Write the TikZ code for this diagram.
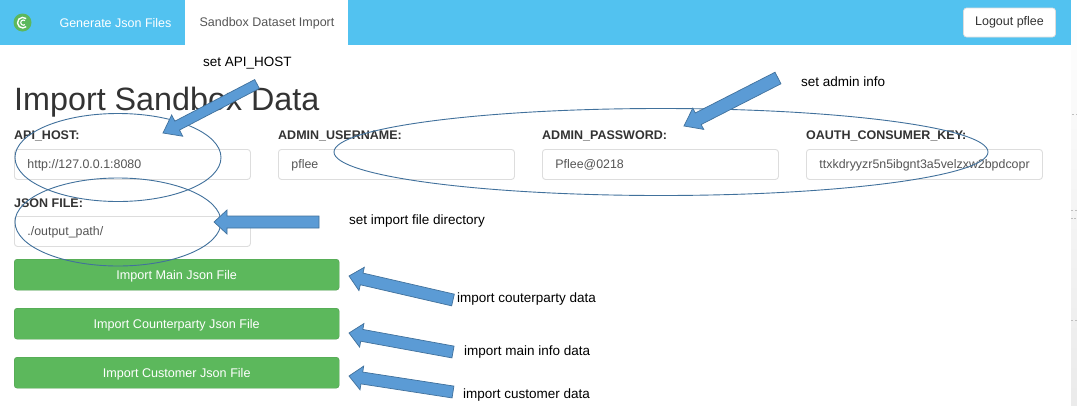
\documentclass[tikz,border=0pt]{standalone}
\usepackage{fontspec}
\setmainfont{Liberation Sans}
\usetikzlibrary{calc}
\definecolor{navblue}{HTML}{52C2F0}
\definecolor{btngreen}{HTML}{5CB85C}
\definecolor{arrowfill}{HTML}{5B9BD5}
\definecolor{arrowline}{HTML}{41719C}
\definecolor{inkdark}{HTML}{333333}
\definecolor{inkgrey}{HTML}{555555}
\definecolor{boxline}{HTML}{DDDDDD}
\tikzset{
  navtext/.style={anchor=center,inner sep=0pt,font=\fontsize{12.5}{14}\selectfont},
  fieldlabel/.style={anchor=west,inner sep=0pt,text=inkdark,font=\bfseries\fontsize{12.5}{14}\selectfont},
  fieldbox/.style={draw=boxline,line width=0.9pt,fill=white,rounded corners=3pt,anchor=north west,minimum height=30pt,inner xsep=13pt,inner ysep=0pt,text=inkgrey,align=left,text depth=0pt,font=\fontsize{12.4}{14}\selectfont},
  greenbtn/.style={draw=btngreen!85!black,line width=0.4pt,fill=btngreen,rounded corners=3pt,anchor=north west,minimum width=325pt,minimum height=31pt,inner sep=0pt,text=white,text height=9pt,text depth=0pt,font=\fontsize{12.6}{14}\selectfont},
  note/.style={anchor=west,inner sep=0pt,text=black,font=\fontsize{13.5}{15}\selectfont},
  ring/.style={draw=arrowline,line width=0.9pt},
  blockarrow/.style={draw=arrowline,line width=0.7pt,fill=arrowfill,line join=miter},
  tick/.style={draw=black!25,line width=0.7pt}
}
% \blockarrow{tail}{tip}{half shaft}{half head}{head length}
\newcommand{\blockarrow}[5]{%
  \coordinate (neck) at ($(#2)!#5pt!(#1)$);
  \draw[blockarrow]
    ($(#1)!#3pt!90:(#2)$) -- ($(neck)!#3pt!-90:(#1)$) -- ($(neck)!#4pt!-90:(#1)$)
    -- (#2) -- ($(neck)!#4pt!90:(#1)$) -- ($(neck)!#3pt!90:(#1)$)
    -- ($(#1)!#3pt!-90:(#2)$) -- cycle;
}
\begin{document}
\begin{tikzpicture}[x=1pt,y=-1pt]
\useasboundingbox (0,0) rectangle (1077,405);
\fill[white] (0,0) rectangle (1077,405);
\shade[top color=white,bottom color=black!8] (1071,0) rectangle (1077,405);
\draw[tick] (1072,114.5) -- (1074,114.5) (1076,114.5) -- (1077,114.5);
\draw[tick] (1071,210.5) -- (1073,210.5) (1075,210.5) -- (1077,210.5);
\draw[tick] (1071,218.5) -- (1072.5,218.5) (1074,218.5) -- (1076,218.5);
\draw[tick] (1071,320.5) -- (1073,320.5) (1075,320.5) -- (1077,320.5);
\fill[navblue] (0,0) rectangle (1071,45);
\fill[white] (185,0) rectangle (348,45);
% logo
\fill[btngreen] (22.5,22.5) circle (9pt);
\draw[white,line width=1.4pt] (26.2,18.6) arc (50:310:5.3pt);
\draw[white,line width=1.1pt] (25,20.6) arc (50:310:2.6pt);
\node[navtext,text=white] (gen) at (115.5,23) {Generate Json Files};
\node[navtext,text=inkgrey] (tab) at (267,23) {Sandbox Dataset Import};
\node[draw=boxline,fill=white,rounded corners=3pt,line width=0.7pt,minimum width=92pt,minimum height=29pt,inner sep=0pt,text=inkdark,font=\fontsize{12.5}{14}\selectfont] (logout) at (1009.5,22.5) {Logout pflee};
\node[anchor=west,inner sep=0pt,text=inkdark,font=\fontsize{32.3}{36}\selectfont] (title) at (14,102) {Import Sandbox Data};
\node[fieldlabel] (l1) at (14,136) {API\_HOST:};
\node[fieldlabel] (l2) at (278,136) {ADMIN\_USERNAME:};
\node[fieldlabel] (l3) at (542,136) {ADMIN\_PASSWORD:};
\node[fieldlabel] (l4) at (806,136) {OAUTH\_CONSUMER\_KEY:};
\node[fieldbox,minimum width=236pt,text width=210pt] (f1) at (14,149) {http://127.0.0.1:8080};
\node[fieldbox,minimum width=236pt,text width=210pt] (f2) at (278,149) {pflee};
\node[fieldbox,minimum width=236pt,text width=210pt] (f3) at (542,149) {Pflee@0218};
\node[fieldbox,minimum width=236pt,text width=210pt] (f4) at (806,149) {ttxkdryyzr5n5ibgnt3a5velzxw2bpdcopr};
\node[fieldlabel] (l5) at (14,203) {JSON FILE:};
\node[fieldbox,minimum width=236pt,text width=210pt] (f5) at (14,216) {./output\_path/};
\node[greenbtn] (b1) at (14,259) {Import Main Json File};
\node[greenbtn] (b2) at (14,308) {Import Counterparty Json File};
\node[greenbtn] (b3) at (14,357) {Import Customer Json File};
% ellipses
\draw[ring] (118,157.5) ellipse (103pt and 44pt);
\draw[ring] (118,222) ellipse (103pt and 44pt);
\draw[ring] (661,152) ellipse (327pt and 43.5pt);
% arrows
\coordinate (a1t) at (257,84); \coordinate (a1h) at (163,133);
\coordinate (a2t) at (778,78); \coordinate (a2h) at (684,126);
\coordinate (a3t) at (319,222); \coordinate (a3h) at (214,222);
\coordinate (a4t) at (453,300); \coordinate (a4h) at (349,276);
\coordinate (a5t) at (453,352); \coordinate (a5h) at (349,333);
\coordinate (a6t) at (453,392); \coordinate (a6h) at (349,376);
\blockarrow{a1t}{a1h}{5}{12}{16}
\blockarrow{a2t}{a2h}{6.5}{12}{16}
\blockarrow{a3t}{a3h}{6}{12}{13}
\blockarrow{a4t}{a4h}{6}{12}{13}
\blockarrow{a5t}{a5h}{6}{12}{13}
\blockarrow{a6t}{a6h}{6}{12}{13}
% notes
\node[note] (n1) at (203,63.5) {set API\_HOST};
\node[note] (n2) at (801,82) {set admin info};
\node[note] (n3) at (349,221.5) {set import file directory};
\node[note] (n4) at (457,299.5) {import couterparty data};
\node[note] (n5) at (464,352.5) {import main info data};
\node[note] (n6) at (463,395.5) {import customer data};
\end{tikzpicture}
\end{document}
